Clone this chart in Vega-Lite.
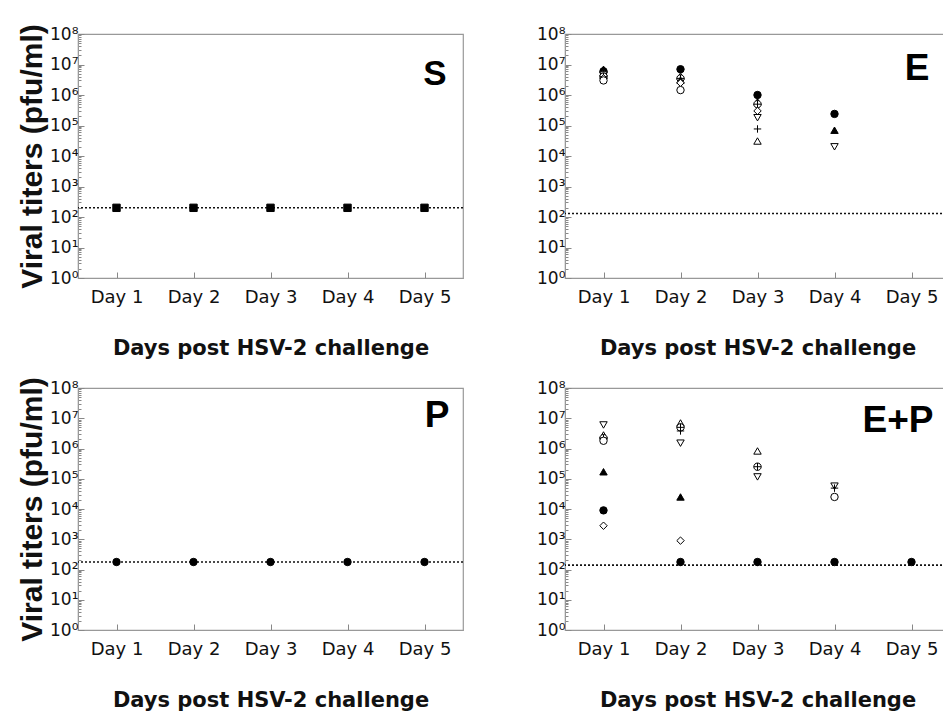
{
  "$schema": "https://vega.github.io/schema/vega-lite/v6.json",
  "background": "white",
  "padding": {"left": 16, "top": 23, "right": 0, "bottom": 0},
  "config": {
    "font": "DejaVu Sans",
    "view": {"stroke": "#999", "strokeWidth": 1.2},
    "axis": {"domainColor": "#999", "tickColor": "#888", "labelColor": "#111", "titleColor": "#111", "grid": false},
    "axisX": {"labelFont": "DejaVu Sans", "labelFontSize": 18, "labelAngle": 0, "labelPadding": 16, "tickSize": -6, "titleFont": "DejaVu Sans", "titleFontSize": 21, "titleFontWeight": "bold", "titlePadding": 31},
    "axisY": {"labelFont": "DejaVu Sans", "labelFontSize": 17, "labelPadding": 6, "titleFont": "Liberation Sans", "titleFontSize": 30, "titleFontWeight": "bold", "titlePadding": 2}
  },
  "datasets": {
    "panels": [
      {"g": "S", "label": "S", "limit": 200},
      {"g": "E", "label": "E", "limit": 130},
      {"g": "P", "label": "P", "limit": 177},
      {"g": "E+P", "label": "E+P", "limit": 140}
    ],
    "titers": [
      {"g": "S", "day": "Day 1", "sym": "sq", "v": 200},
      {"g": "S", "day": "Day 2", "sym": "sq", "v": 200},
      {"g": "S", "day": "Day 3", "sym": "sq", "v": 200},
      {"g": "S", "day": "Day 4", "sym": "sq", "v": 200},
      {"g": "S", "day": "Day 5", "sym": "sq", "v": 200},
      {"g": "P", "day": "Day 1", "sym": "fc", "v": 177},
      {"g": "P", "day": "Day 2", "sym": "fc", "v": 177},
      {"g": "P", "day": "Day 3", "sym": "fc", "v": 177},
      {"g": "P", "day": "Day 4", "sym": "fc", "v": 177},
      {"g": "P", "day": "Day 5", "sym": "fc", "v": 177},
      {"g": "E", "day": "Day 1", "sym": "tf", "v": 7000000},
      {"g": "E", "day": "Day 1", "sym": "fc", "v": 6000000},
      {"g": "E", "day": "Day 1", "sym": "tu", "v": 5500000},
      {"g": "E", "day": "Day 1", "sym": "pl", "v": 5000000},
      {"g": "E", "day": "Day 1", "sym": "td", "v": 4500000},
      {"g": "E", "day": "Day 1", "sym": "cp", "v": 4000000},
      {"g": "E", "day": "Day 1", "sym": "dm", "v": 3500000},
      {"g": "E", "day": "Day 1", "sym": "oc", "v": 3000000},
      {"g": "E", "day": "Day 2", "sym": "fc", "v": 7000000},
      {"g": "E", "day": "Day 2", "sym": "tu", "v": 4200000},
      {"g": "E", "day": "Day 2", "sym": "cp", "v": 3500000},
      {"g": "E", "day": "Day 2", "sym": "tf", "v": 3100000},
      {"g": "E", "day": "Day 2", "sym": "dm", "v": 2500000},
      {"g": "E", "day": "Day 2", "sym": "oc", "v": 1450000},
      {"g": "E", "day": "Day 3", "sym": "fc", "v": 1000000},
      {"g": "E", "day": "Day 3", "sym": "tf", "v": 600000},
      {"g": "E", "day": "Day 3", "sym": "cp", "v": 500000},
      {"g": "E", "day": "Day 3", "sym": "dm", "v": 300000},
      {"g": "E", "day": "Day 3", "sym": "td", "v": 180000},
      {"g": "E", "day": "Day 3", "sym": "pl", "v": 77000},
      {"g": "E", "day": "Day 3", "sym": "tu", "v": 31000},
      {"g": "E", "day": "Day 4", "sym": "fc", "v": 240000},
      {"g": "E", "day": "Day 4", "sym": "tf", "v": 70000},
      {"g": "E", "day": "Day 4", "sym": "td", "v": 20000},
      {"g": "E+P", "day": "Day 1", "sym": "td", "v": 6000000},
      {"g": "E+P", "day": "Day 1", "sym": "tu", "v": 2800000},
      {"g": "E+P", "day": "Day 1", "sym": "cp", "v": 2200000},
      {"g": "E+P", "day": "Day 1", "sym": "oc", "v": 1800000},
      {"g": "E+P", "day": "Day 1", "sym": "tf", "v": 170000},
      {"g": "E+P", "day": "Day 1", "sym": "fc", "v": 9000},
      {"g": "E+P", "day": "Day 1", "sym": "dm", "v": 2800},
      {"g": "E+P", "day": "Day 2", "sym": "tu", "v": 7000000},
      {"g": "E+P", "day": "Day 2", "sym": "cp", "v": 5000000},
      {"g": "E+P", "day": "Day 2", "sym": "pl", "v": 3800000},
      {"g": "E+P", "day": "Day 2", "sym": "td", "v": 1500000},
      {"g": "E+P", "day": "Day 2", "sym": "tf", "v": 25000},
      {"g": "E+P", "day": "Day 2", "sym": "dm", "v": 900},
      {"g": "E+P", "day": "Day 2", "sym": "fc", "v": 177},
      {"g": "E+P", "day": "Day 3", "sym": "tu", "v": 830000},
      {"g": "E+P", "day": "Day 3", "sym": "cp", "v": 250000},
      {"g": "E+P", "day": "Day 3", "sym": "td", "v": 115000},
      {"g": "E+P", "day": "Day 3", "sym": "fc", "v": 177},
      {"g": "E+P", "day": "Day 4", "sym": "td", "v": 57000},
      {"g": "E+P", "day": "Day 4", "sym": "pl", "v": 49000},
      {"g": "E+P", "day": "Day 4", "sym": "oc", "v": 25000},
      {"g": "E+P", "day": "Day 4", "sym": "fc", "v": 177},
      {"g": "E+P", "day": "Day 5", "sym": "fc", "v": 177}
    ]
  },
  "spacing": 17,
  "vconcat": [
    {
      "spacing": 70,
      "hconcat": [
        {
          "width": 385, "height": 244,
          "layer": [
            {"data": {"name": "panels"}, "transform": [{"filter": "datum.g === 'S'"}],
             "mark": {"type": "rule", "strokeDash": [2, 2], "strokeWidth": 1.6, "color": "#111"},
             "encoding": {"y": {"field": "limit", "type": "quantitative", "scale": {"type": "log", "domain": [1, 100000000], "nice": false},
               "axis": {"title": "Viral titers (pfu/ml)",
                 "values": [1,2,3,4,5,6,7,8,9,10,20,30,40,50,60,70,80,90,100,200,300,400,500,600,700,800,900,1000,2000,3000,4000,5000,6000,7000,8000,9000,10000,20000,30000,40000,50000,60000,70000,80000,90000,100000,200000,300000,400000,500000,600000,700000,800000,900000,1000000,2000000,3000000,4000000,5000000,6000000,7000000,8000000,9000000,10000000,20000000,30000000,40000000,50000000,60000000,70000000,80000000,90000000,100000000],
                 "labelExpr": "abs(log(datum.value)/LN10 - round(log(datum.value)/LN10)) < 0.001 ? '10' + ['⁰','¹','²','³','⁴','⁵','⁶','⁷','⁸','⁹'][round(log(datum.value)/LN10)] : ''",
                 "tickSize": {"condition": {"test": "abs(log(datum.value)/LN10 - round(log(datum.value)/LN10)) < 0.001", "value": -6}, "value": -3}}}}},
            {"data": {"name": "titers"}, "transform": [{"filter": "datum.g === 'S'"}],
             "mark": {"type": "point", "size": 55, "stroke": "black", "strokeWidth": 1, "opacity": 1},
             "encoding": {
               "x": {"field": "day", "type": "ordinal", "scale": {"type": "point", "domain": ["Day 1","Day 2","Day 3","Day 4","Day 5"], "padding": 0.5},
                 "axis": {"title": "Days post HSV-2 challenge"}},
               "y": {"field": "v", "type": "quantitative"},
               "shape": {"field": "sym", "type": "nominal", "legend": null, "scale": {"domain": ["fc","tf","oc","dm","tu","td","pl","cp","sq"], "range": ["circle","triangle-up","circle","diamond","triangle-up","triangle-down","M-1,0H1M0,-1V1","M-1,0A1,1,0,1,0,1,0A1,1,0,1,0,-1,0ZM-1,0H1M0,-1V1","square"]}},
               "fill": {"field": "sym", "type": "nominal", "legend": null, "scale": {"domain": ["fc","tf","oc","dm","tu","td","pl","cp","sq"], "range": ["black","black","white","white","white","white","white","white","black"]}}
             }},
            {"data": {"name": "panels"}, "transform": [{"filter": "datum.g === 'S'"}],
             "mark": {"type": "text", "font": "Liberation Sans", "fontSize": 35, "fontWeight": "bold", "align": "right", "baseline": "middle", "dx": 22, "color": "black"},
             "encoding": {"x": {"datum": "Day 5", "type": "ordinal"}, "y": {"datum": 5000000, "type": "quantitative"}, "text": {"field": "label"}}}
          ]
        },
        {
          "width": 385, "height": 244,
          "layer": [
            {"data": {"name": "panels"}, "transform": [{"filter": "datum.g === 'E'"}],
             "mark": {"type": "rule", "strokeDash": [2, 2], "strokeWidth": 1.6, "color": "#111"},
             "encoding": {"y": {"field": "limit", "type": "quantitative", "scale": {"type": "log", "domain": [1, 100000000], "nice": false},
               "axis": {"title": null,
                 "values": [1,2,3,4,5,6,7,8,9,10,20,30,40,50,60,70,80,90,100,200,300,400,500,600,700,800,900,1000,2000,3000,4000,5000,6000,7000,8000,9000,10000,20000,30000,40000,50000,60000,70000,80000,90000,100000,200000,300000,400000,500000,600000,700000,800000,900000,1000000,2000000,3000000,4000000,5000000,6000000,7000000,8000000,9000000,10000000,20000000,30000000,40000000,50000000,60000000,70000000,80000000,90000000,100000000],
                 "labelExpr": "abs(log(datum.value)/LN10 - round(log(datum.value)/LN10)) < 0.001 ? '10' + ['⁰','¹','²','³','⁴','⁵','⁶','⁷','⁸','⁹'][round(log(datum.value)/LN10)] : ''",
                 "tickSize": {"condition": {"test": "abs(log(datum.value)/LN10 - round(log(datum.value)/LN10)) < 0.001", "value": -6}, "value": -3}}}}},
            {"data": {"name": "titers"}, "transform": [{"filter": "datum.g === 'E'"}],
             "mark": {"type": "point", "size": 55, "stroke": "black", "strokeWidth": 1, "opacity": 1},
             "encoding": {
               "x": {"field": "day", "type": "ordinal", "scale": {"type": "point", "domain": ["Day 1","Day 2","Day 3","Day 4","Day 5"], "padding": 0.5},
                 "axis": {"title": "Days post HSV-2 challenge"}},
               "y": {"field": "v", "type": "quantitative"},
               "shape": {"field": "sym", "type": "nominal", "legend": null, "scale": {"domain": ["fc","tf","oc","dm","tu","td","pl","cp","sq"], "range": ["circle","triangle-up","circle","diamond","triangle-up","triangle-down","M-1,0H1M0,-1V1","M-1,0A1,1,0,1,0,1,0A1,1,0,1,0,-1,0ZM-1,0H1M0,-1V1","square"]}},
               "fill": {"field": "sym", "type": "nominal", "legend": null, "scale": {"domain": ["fc","tf","oc","dm","tu","td","pl","cp","sq"], "range": ["black","black","white","white","white","white","white","white","black"]}}
             }},
            {"data": {"name": "panels"}, "transform": [{"filter": "datum.g === 'E'"}],
             "mark": {"type": "text", "font": "Liberation Sans", "fontSize": 37, "fontWeight": "bold", "align": "right", "baseline": "middle", "dx": 18, "color": "black"},
             "encoding": {"x": {"datum": "Day 5", "type": "ordinal"}, "y": {"datum": 7000000, "type": "quantitative"}, "text": {"field": "label"}}}
          ]
        }
      ]
    },
    {
      "spacing": 70,
      "hconcat": [
        {
          "width": 385, "height": 242,
          "layer": [
            {"data": {"name": "panels"}, "transform": [{"filter": "datum.g === 'P'"}],
             "mark": {"type": "rule", "strokeDash": [2, 2], "strokeWidth": 1.6, "color": "#111"},
             "encoding": {"y": {"field": "limit", "type": "quantitative", "scale": {"type": "log", "domain": [1, 100000000], "nice": false},
               "axis": {"title": "Viral titers (pfu/ml)",
                 "values": [1,2,3,4,5,6,7,8,9,10,20,30,40,50,60,70,80,90,100,200,300,400,500,600,700,800,900,1000,2000,3000,4000,5000,6000,7000,8000,9000,10000,20000,30000,40000,50000,60000,70000,80000,90000,100000,200000,300000,400000,500000,600000,700000,800000,900000,1000000,2000000,3000000,4000000,5000000,6000000,7000000,8000000,9000000,10000000,20000000,30000000,40000000,50000000,60000000,70000000,80000000,90000000,100000000],
                 "labelExpr": "abs(log(datum.value)/LN10 - round(log(datum.value)/LN10)) < 0.001 ? '10' + ['⁰','¹','²','³','⁴','⁵','⁶','⁷','⁸','⁹'][round(log(datum.value)/LN10)] : ''",
                 "tickSize": {"condition": {"test": "abs(log(datum.value)/LN10 - round(log(datum.value)/LN10)) < 0.001", "value": -6}, "value": -3}}}}},
            {"data": {"name": "titers"}, "transform": [{"filter": "datum.g === 'P'"}],
             "mark": {"type": "point", "size": 55, "stroke": "black", "strokeWidth": 1, "opacity": 1},
             "encoding": {
               "x": {"field": "day", "type": "ordinal", "scale": {"type": "point", "domain": ["Day 1","Day 2","Day 3","Day 4","Day 5"], "padding": 0.5},
                 "axis": {"title": "Days post HSV-2 challenge"}},
               "y": {"field": "v", "type": "quantitative"},
               "shape": {"field": "sym", "type": "nominal", "legend": null, "scale": {"domain": ["fc","tf","oc","dm","tu","td","pl","cp","sq"], "range": ["circle","triangle-up","circle","diamond","triangle-up","triangle-down","M-1,0H1M0,-1V1","M-1,0A1,1,0,1,0,1,0A1,1,0,1,0,-1,0ZM-1,0H1M0,-1V1","square"]}},
               "fill": {"field": "sym", "type": "nominal", "legend": null, "scale": {"domain": ["fc","tf","oc","dm","tu","td","pl","cp","sq"], "range": ["black","black","white","white","white","white","white","white","black"]}}
             }},
            {"data": {"name": "panels"}, "transform": [{"filter": "datum.g === 'P'"}],
             "mark": {"type": "text", "font": "Liberation Sans", "fontSize": 37, "fontWeight": "bold", "align": "right", "baseline": "middle", "dx": 25, "color": "black"},
             "encoding": {"x": {"datum": "Day 5", "type": "ordinal"}, "y": {"datum": 12000000, "type": "quantitative"}, "text": {"field": "label"}}}
          ]
        },
        {
          "width": 385, "height": 242,
          "layer": [
            {"data": {"name": "panels"}, "transform": [{"filter": "datum.g === 'E+P'"}],
             "mark": {"type": "rule", "strokeDash": [2, 2], "strokeWidth": 1.6, "color": "#111"},
             "encoding": {"y": {"field": "limit", "type": "quantitative", "scale": {"type": "log", "domain": [1, 100000000], "nice": false},
               "axis": {"title": null,
                 "values": [1,2,3,4,5,6,7,8,9,10,20,30,40,50,60,70,80,90,100,200,300,400,500,600,700,800,900,1000,2000,3000,4000,5000,6000,7000,8000,9000,10000,20000,30000,40000,50000,60000,70000,80000,90000,100000,200000,300000,400000,500000,600000,700000,800000,900000,1000000,2000000,3000000,4000000,5000000,6000000,7000000,8000000,9000000,10000000,20000000,30000000,40000000,50000000,60000000,70000000,80000000,90000000,100000000],
                 "labelExpr": "abs(log(datum.value)/LN10 - round(log(datum.value)/LN10)) < 0.001 ? '10' + ['⁰','¹','²','³','⁴','⁵','⁶','⁷','⁸','⁹'][round(log(datum.value)/LN10)] : ''",
                 "tickSize": {"condition": {"test": "abs(log(datum.value)/LN10 - round(log(datum.value)/LN10)) < 0.001", "value": -6}, "value": -3}}}}},
            {"data": {"name": "titers"}, "transform": [{"filter": "datum.g === 'E+P'"}],
             "mark": {"type": "point", "size": 55, "stroke": "black", "strokeWidth": 1, "opacity": 1},
             "encoding": {
               "x": {"field": "day", "type": "ordinal", "scale": {"type": "point", "domain": ["Day 1","Day 2","Day 3","Day 4","Day 5"], "padding": 0.5},
                 "axis": {"title": "Days post HSV-2 challenge"}},
               "y": {"field": "v", "type": "quantitative"},
               "shape": {"field": "sym", "type": "nominal", "legend": null, "scale": {"domain": ["fc","tf","oc","dm","tu","td","pl","cp","sq"], "range": ["circle","triangle-up","circle","diamond","triangle-up","triangle-down","M-1,0H1M0,-1V1","M-1,0A1,1,0,1,0,1,0A1,1,0,1,0,-1,0ZM-1,0H1M0,-1V1","square"]}},
               "fill": {"field": "sym", "type": "nominal", "legend": null, "scale": {"domain": ["fc","tf","oc","dm","tu","td","pl","cp","sq"], "range": ["black","black","white","white","white","white","white","white","black"]}}
             }},
            {"data": {"name": "panels"}, "transform": [{"filter": "datum.g === 'E+P'"}],
             "mark": {"type": "text", "font": "Liberation Sans", "fontSize": 37, "fontWeight": "bold", "align": "right", "baseline": "middle", "dx": 22, "color": "black"},
             "encoding": {"x": {"datum": "Day 5", "type": "ordinal"}, "y": {"datum": 8000000, "type": "quantitative"}, "text": {"field": "label"}}}
          ]
        }
      ]
    }
  ]
}
